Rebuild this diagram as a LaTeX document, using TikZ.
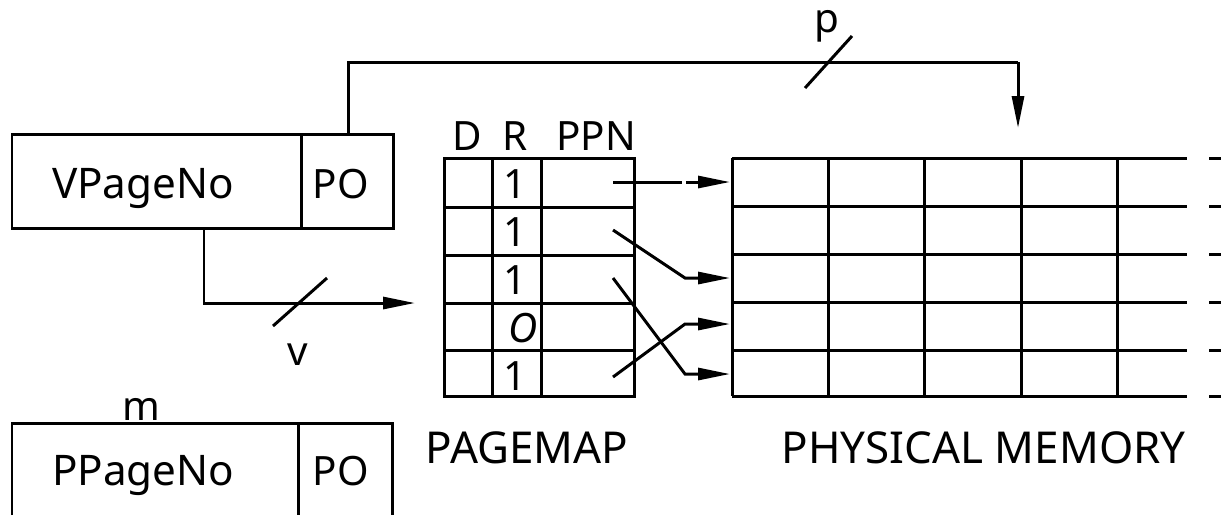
\documentclass[tikz,border=0pt]{standalone}
\usepackage{fontspec}
\setmainfont{Noto Sans}
\usetikzlibrary{arrows.meta}
\begin{document}
\begin{tikzpicture}[x=0.1mm,y=-0.1mm,line width=0.85pt,
  lbl/.style={font=\fontsize{11.5}{13}\selectfont, inner sep=0pt, anchor=base},
  narrowlbl/.style={font=\fontsize{12}{13}\selectfont, inner sep=0pt, anchor=base},
  biglbl/.style={font=\fontsize{12.5}{14}\selectfont, inner sep=0pt, anchor=base},
  tip/.style={-{Triangle[length=3.2mm,width=1.2mm]}},
  wire/.style={line width=0.85pt}]
\useasboundingbox (0,0) rectangle (1221,515);

% virtual address box
\draw (12,134) rectangle (393,228);
\draw (301,134) -- (301,228);
\node[narrowlbl] (vpn) at (143,198) {VPageNo};
\node[lbl] (vpo) at (341,198) {PO};

% physical address box (bottom cut off)
\draw (12,515) -- (12,423) -- (392,423) -- (392,515);
\draw (298,423) -- (298,515);
\node[narrowlbl] (ppn) at (143,485) {PPageNo};
\node[lbl] (ppo) at (341,485) {PO};
\node[lbl] (m) at (141,420) {m};

% page map
\draw (444,158) rectangle (634,396);
\foreach \x in {492,541} \draw (\x,158) -- (\x,396);
\foreach \y in {207,255,303,350} \draw (444,\y) -- (634,\y);
\node[lbl] (hD) at (467,150) {D};
\node[lbl] (hR) at (515,150) {R};
\node[lbl] (hP) at (596,150) {PPN};
\node[lbl] (r1) at (515,198) {1};
\node[lbl] (r2) at (515,246) {1};
\node[lbl] (r3) at (515,294) {1};
\node[lbl] (r4) at (523,342) {\itshape O};
\node[lbl] (r5) at (515,390) {1};
\node[biglbl] (pmlbl) at (527,463) {PAGEMAP};

% physical memory grid
\foreach \y in {158,206,254,302,350,396} {
  \draw (732,\y) -- (1187,\y);
  \draw (1209,\y) -- (1221,\y);
}
\foreach \x in {732,828,924,1021,1117} \draw (\x,158) -- (\x,396);
\node[biglbl,anchor=base east] (physlbl) at (1187,463) {PHYSICAL MEMORY};

% connector coordinates
\coordinate (poTop) at (348,134);
\coordinate (pTurn) at (348,62);
\coordinate (pEnd) at (1018,62);
\coordinate (pTip) at (1018,128);
\coordinate (vStart) at (204,228);
\coordinate (vTurn) at (204,303);
\coordinate (vTip) at (415,303);

\coordinate (a1) at (613,182);
\coordinate (a1m) at (682,182);
\coordinate (a1n) at (686,182);
\coordinate (t1) at (730,182);
\coordinate (a2) at (613,230);
\coordinate (b2) at (685,278);
\coordinate (t2) at (730,278);
\coordinate (a3) at (613,278);
\coordinate (b3) at (685,374);
\coordinate (t3) at (730,374);
\coordinate (a5) at (613,377);
\coordinate (b5) at (685,324);
\coordinate (t5) at (730,324);

% page offset wire p
\draw[wire] (poTop) -- (pTurn) -- (pEnd);
\draw[tip] (pEnd) -- (pTip);
\draw (805,88) -- (852,36);
\node[lbl] (p) at (827,32) {p};

% virtual page number wire v
\draw[tip] (vStart) -- (vTurn) -- (vTip);
\draw (273,326) -- (327,278);
\node[lbl] (v) at (298,365) {v};

% mapping arrows
\draw (a1) -- (a1m);
\draw[tip] (a1n) -- (t1);
\draw[tip] (a2) -- (b2) -- (t2);
\draw[tip] (a3) -- (b3) -- (t3);
\draw[tip] (a5) -- (b5) -- (t5);
\end{tikzpicture}
\end{document}
